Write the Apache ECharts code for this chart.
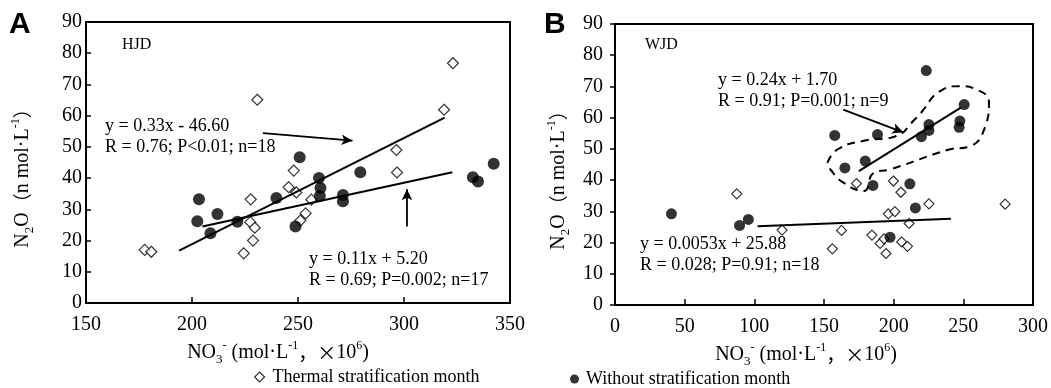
<!DOCTYPE html>
<html>
<head>
<meta charset="utf-8">
<script src="https://cdn.jsdelivr.net/npm/echarts@6/dist/echarts.min.js"></script>
<style>
  html, body { margin: 0; padding: 0; background: #fff; }
  #chart { width: 1051px; height: 388px; }
</style>
</head>
<body>
<div id="chart"></div>
<script>
// tick labels
const hjdXTicks = [150, 200, 250, 300, 350];
const wjdXTicks = [0, 50, 100, 150, 200, 250, 300];
const yTicks = [0, 10, 20, 30, 40, 50, 60, 70, 80, 90];

// A - HJD, NO3 vs N2O
const hjdThermal = [
  [177.7, 17.0], [180.8, 16.4], [224.4, 15.9], [228.8, 20.0], [227.5, 25.9], [229.6, 24.1],
  [227.7, 33.2], [230.8, 65.1], [248.0, 42.4], [245.6, 37.1], [249.2, 35.4], [251.1, 26.4],
  [253.6, 28.7], [256.3, 33.1], [296.4, 49.0], [296.7, 41.8], [318.9, 61.9], [323.1, 76.8]
];
const hjdWithout = [
  [203.3, 33.2], [202.5, 26.2], [212.0, 28.5], [208.7, 22.3], [221.4, 26.0], [239.8, 33.6],
  [250.8, 46.7], [248.8, 24.5], [259.9, 40.0], [260.6, 36.8], [260.3, 34.3], [271.2, 34.6],
  [271.2, 32.6], [279.4, 41.9], [332.5, 40.3], [334.9, 38.9], [342.3, 44.6]
];
const hjdFitThermal = [[193.9, 16.8], [319.2, 59.4]];
const hjdFitWithout = [[204.9, 24.5], [322.8, 41.9]];
const hjdArrows = [
  [[233.5, 54.4], [275.7, 52.0]],
  [[301.4, 24.5], [301.4, 36.4]]
];

// B - WJD
const wjdThermal = [
  [87.4, 35.6], [119.9, 24.0], [156.0, 18.0], [162.6, 23.9], [173.3, 38.9], [184.4, 22.4],
  [190.3, 19.7], [193.1, 21.2], [194.5, 16.5], [196.2, 29.2], [200.9, 29.9], [199.8, 39.7],
  [205.2, 36.1], [205.7, 20.2], [209.9, 18.8], [211.1, 26.1], [225.3, 32.4], [280.0, 32.3]
];
const wjdWithout = [
  [40.5, 29.2], [89.4, 25.5], [95.7, 27.4], [157.7, 54.3], [165.0, 43.9], [179.6, 46.1],
  [188.4, 54.6], [185.1, 38.3], [197.4, 21.7], [211.6, 38.8], [215.6, 31.1], [219.9, 53.9],
  [223.4, 75.1], [225.3, 57.8], [225.3, 55.9], [247.5, 58.9], [247.0, 56.9], [250.6, 64.2]
];
const wjdFitWithout = [[175.0, 42.9], [248.2, 63.2]];
const wjdFitThermal = [[102.3, 25.2], [241.1, 27.6]];
const wjdArrows = [
  [[163.8, 62.6], [206.9, 55.3]]
];
const wjdLoop = [
  [152.5, 45.5], [159.6, 49.8], [178.5, 52.6], [199.8, 53.8], [216.3, 60.0], [235.2, 69.0],
  [247.0, 70.1], [259.5, 69.0], [268.4, 64.9], [265.5, 56.9], [254.1, 50.7], [239.9, 49.8],
  [197.2, 43.4], [185.6, 42.3], [178.5, 36.5], [164.3, 39.1], [154.6, 43.4], [152.5, 45.5]
];

const THERMAL = "Thermal stratification month";
const WITHOUT = "Without stratification month";
const serif = "'Liberation Serif', 'Times New Roman', serif";
const cjk = "'Noto Sans CJK SC', sans-serif";

const nameRich = {
  t: { fontSize: 20, fontFamily: serif, color: "#000", lineHeight: 26 },
  c: { fontSize: 19, fontFamily: cjk, color: "#000", lineHeight: 26 },
  s: { fontSize: 13, fontFamily: serif, color: "#000", lineHeight: 13, verticalAlign: "bottom" },
  p: { fontSize: 12, fontFamily: serif, color: "#000", lineHeight: 12, verticalAlign: "top" }
};
const xName = "{t|NO}{s|3}{p|-}{t| (mol·L}{p|-1}{c|，×}{t|10}{p|6}{t|)}";
const yName = "{t|N}{s|2}{t|O}{c|（}{t|n mol·L}{p|-1}{c|）}";

const grids = [
  { left: 86, top: 22, width: 424, height: 281 },
  { left: 615, top: 24, width: 423, height: 281 }
];

function xAxis(idx, ticks, nameGap, shift) {
  return {
    type: "value", gridIndex: idx,
    min: ticks[0], max: ticks[ticks.length - 1], interval: ticks[1] - ticks[0],
    axisLine: { onZero: false, lineStyle: { color: "#000", width: 2 } },
    axisTick: { inside: true, length: 6, lineStyle: { color: "#000", width: 1.5 } },
    axisLabel: { color: "#000", fontSize: 20, fontFamily: serif, margin: 12 },
    splitLine: { show: false },
    name: xName, nameLocation: "middle", nameGap: nameGap,
    nameTextStyle: { rich: nameRich, padding: [0, shift, 0, 0] }
  };
}
function yAxis(idx, nameGap, tickInside, margin) {
  return {
    type: "value", gridIndex: idx,
    min: yTicks[0], max: yTicks[yTicks.length - 1], interval: yTicks[1] - yTicks[0],
    axisLine: { onZero: false, lineStyle: { color: "#000", width: 2 } },
    axisTick: { inside: tickInside, length: 5, lineStyle: { color: "#000", width: 1.5 } },
    axisLabel: { color: "#000", fontSize: 20, fontFamily: serif, margin: margin },
    splitLine: { show: false },
    name: yName, nameLocation: "middle", nameGap: nameGap, nameRotate: 90,
    nameTextStyle: { rich: nameRich, padding: [0, 22, 0, 0] }
  };
}

const hollow = { color: "#fff", borderColor: "#000", borderWidth: 1.2 };
const solid = { color: "#000" };
const fitLine = { color: "#000", width: 2 };

function arrowMarks(arrows) {
  return {
    silent: true,
    symbol: ["none", "arrow"],
    symbolSize: [8, 11],
    label: { show: false },
    lineStyle: { color: "#000", width: 1.8, type: "solid" },
    data: arrows.map(a => [{ coord: a[0] }, { coord: a[1] }])
  };
}

function panel(idx, thermal, without, fitT, fitW, arrows, dSize, cSize) {
  return [
    { name: THERMAL, type: "scatter", xAxisIndex: idx, yAxisIndex: idx, data: thermal,
      symbol: "diamond", symbolSize: dSize, itemStyle: hollow, z: 3 },
    { name: WITHOUT, type: "scatter", xAxisIndex: idx, yAxisIndex: idx, data: without,
      symbol: "circle", symbolSize: cSize, itemStyle: solid, z: 3 },
    { type: "line", xAxisIndex: idx, yAxisIndex: idx, data: fitT, symbol: "none",
      lineStyle: fitLine, silent: true, z: 4 },
    { type: "line", xAxisIndex: idx, yAxisIndex: idx, data: fitW, symbol: "none",
      lineStyle: fitLine, silent: true, z: 4, markLine: arrowMarks(arrows) }
  ];
}

const series = [].concat(
  panel(0, hjdThermal, hjdWithout, hjdFitThermal, hjdFitWithout, hjdArrows, 11, 12),
  panel(1, wjdThermal, wjdWithout, wjdFitThermal, wjdFitWithout, wjdArrows, 10, 11),
  [{ type: "line", xAxisIndex: 1, yAxisIndex: 1, data: wjdLoop, symbol: "none", smooth: 0.5,
     lineStyle: { color: "#000", width: 2, type: [8, 6] }, silent: true, z: 4 }]
);

function note(text, left, top, size) {
  return { type: "text", left: left, top: top, silent: true,
    style: { text: text, fontSize: size || 18, fontFamily: serif, fill: "#000", lineHeight: 21 } };
}

const option = {
  backgroundColor: "#fff",
  animation: false,
  grid: grids.map(g => Object.assign({ show: true, borderColor: "#000", borderWidth: 2 }, g)),
  xAxis: [xAxis(0, hjdXTicks, 31, 40), xAxis(1, wjdXTicks, 31, 36)],
  yAxis: [yAxis(0, 50, true, 4), yAxis(1, 43, false, 12)],
  legend: [
    { left: 254, top: 368, padding: 0, itemWidth: 10, itemHeight: 10, selectedMode: false,
      textStyle: { fontFamily: serif, fontSize: 18, color: "#000", padding: [0, 0, 0, 3] },
      data: [{ name: THERMAL, icon: "diamond", itemStyle: hollow }] },
    { left: 570, top: 370, padding: 0, itemWidth: 9, itemHeight: 9, selectedMode: false,
      textStyle: { fontFamily: serif, fontSize: 18, color: "#000", padding: [0, 0, 0, 2] },
      data: [{ name: WITHOUT, icon: "circle", itemStyle: solid }] }
  ],
  graphic: [
    { type: "text", left: 9, top: 10, style: { text: "A", fontSize: 30, fontWeight: "bold",
      fontFamily: "'Liberation Sans', Arial, sans-serif", fill: "#000" } },
    { type: "text", left: 544, top: 10, style: { text: "B", fontSize: 30, fontWeight: "bold",
      fontFamily: "'Liberation Sans', Arial, sans-serif", fill: "#000" } },
    note("HJD", 122, 34, 16),
    note("y = 0.33x - 46.60\nR = 0.76; P<0.01; n=18", 105, 116),
    note("y = 0.11x + 5.20\nR = 0.69; P=0.002; n=17", 309, 249),
    note("WJD", 645, 34, 16),
    note("y = 0.24x + 1.70\nR = 0.91; P=0.001; n=9", 718, 70),
    note("y = 0.0053x + 25.88\nR = 0.028; P=0.91; n=18", 640, 234)
  ],
  series: series
};

const chart = echarts.init(document.getElementById("chart"), null, { renderer: "canvas" });
chart.setOption(option);
</script>
</body>
</html>
